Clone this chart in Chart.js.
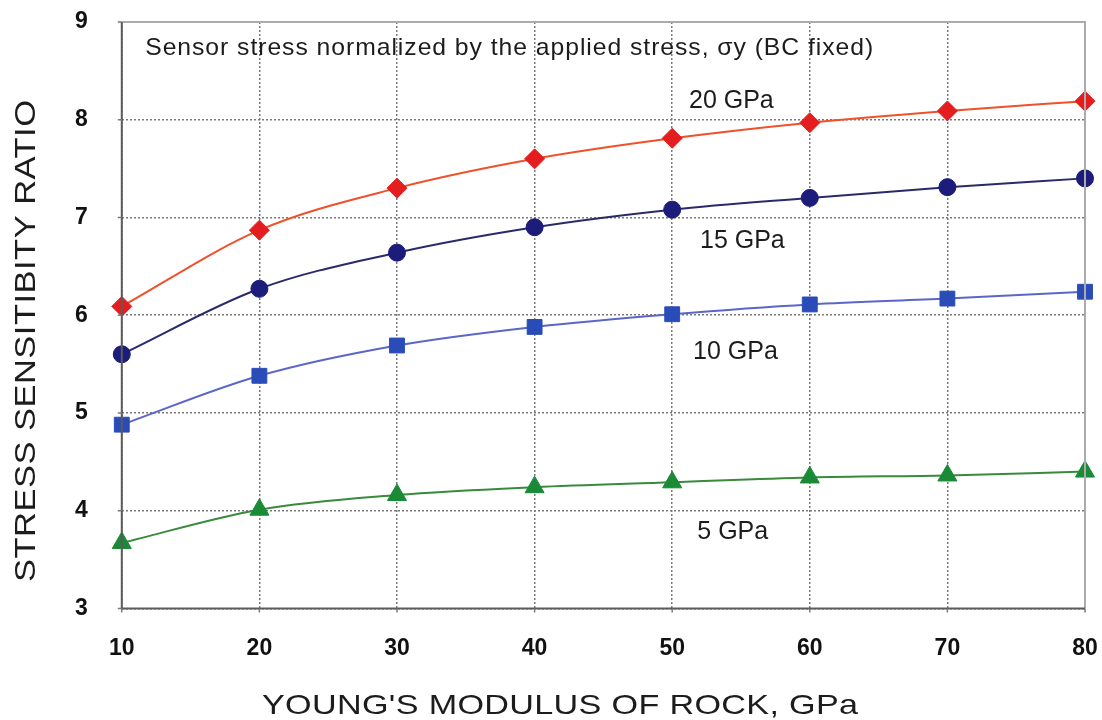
<!DOCTYPE html>
<html>
<head>
<meta charset="utf-8">
<script src="https://cdn.jsdelivr.net/npm/chart.js@4"></script>
<style>
  body { margin: 0; background: #fff; }
  #wrap { width: 1102px; height: 720px; }
</style>
</head>
<body>
<div id="wrap"><canvas id="chart-modulus"></canvas></div>
<script>
// young's modulus of rock (GPa)
const modulus = [10, 20, 30, 40, 50, 60, 70, 80];

// sensor stress normalized, one array per sensor modulus
const gpa20 = [6.09, 6.87, 7.30, 7.60, 7.81, 7.97, 8.09, 8.19];
const gpa15 = [5.60, 6.27, 6.64, 6.90, 7.08, 7.20, 7.31, 7.40];
const gpa10 = [4.88, 5.38, 5.69, 5.88, 6.01, 6.11, 6.17, 6.24];
const gpa5  = [3.67, 4.01, 4.16, 4.24, 4.29, 4.34, 4.36, 4.40];

const seriesNames = ['20 GPa', '15 GPa', '10 GPa', '5 GPa'];
const yTicks = [3, 4, 5, 6, 7, 8, 9];
const xTicks = [10, 20, 30, 40, 50, 60, 70, 80];
const noteText = 'Sensor stress normalized by the applied stress, \u03c3y (BC fixed)';
const xTitle = "YOUNG'S MODULUS OF ROCK, GPa";
const yTitle = 'STRESS SENSITIBITY RATIO';

const FAMILY = '"Liberation Sans", Arial, sans-serif';

function pts(values){
    const out = [];
    for(let i = 0; i < modulus.length; ++i){
        out.push({x: modulus[i], y: values[i]});
    }
    return out;
}

// draws text widened to a given width (the original font is wider)
function spreadText(ctx, text, x, y, width, stretch){
    const natural = ctx.measureText(text).width;
    ctx.save();
    ctx.translate(x, y);
    ctx.scale(stretch, 1);
    if('letterSpacing' in ctx){
        ctx.letterSpacing = ((width / stretch - natural) / (text.length - 1)) + 'px';
    } else {
        ctx.scale(width / (natural * stretch), 1);
    }
    ctx.fillText(text, 0, 0);
    ctx.restore();
}

// frame, small ticks, titles and labels
const textPlugin = {
    id: 'textos',
    afterDatasetsDraw(chart){
        const ctx = chart.ctx;
        const xs = chart.scales.x, ys = chart.scales.y;
        const a = chart.chartArea;
        ctx.save();
        ctx.lineWidth = 2;
        ctx.strokeStyle = '#ababab';
        ctx.beginPath();
        ctx.moveTo(a.left, a.top);
        ctx.lineTo(a.right, a.top);
        ctx.lineTo(a.right, a.bottom);
        ctx.stroke();
        ctx.strokeStyle = '#5a5a5a';
        ctx.beginPath();
        ctx.moveTo(a.left, a.top);
        ctx.lineTo(a.left, a.bottom);
        ctx.lineTo(a.right, a.bottom);
        ctx.stroke();

        ctx.lineWidth = 1.5;
        ctx.strokeStyle = '#7a7a7a';
        ctx.beginPath();
        xs.ticks.forEach(t => {
            const px = xs.getPixelForValue(t.value);
            ctx.moveTo(px, a.bottom);
            ctx.lineTo(px, a.bottom + 4);
        });
        ys.ticks.forEach(t => {
            const py = ys.getPixelForValue(t.value);
            ctx.moveTo(a.left - 4, py);
            ctx.lineTo(a.left, py);
        });
        ctx.stroke();

        ctx.fillStyle = '#1c1c1c';
        ctx.textBaseline = 'middle';

        ctx.font = '24px ' + FAMILY;
        ctx.textAlign = 'left';
        spreadText(ctx, noteText, xs.getPixelForValue(11.7), ys.getPixelForValue(8.73), 728, 1.03);

        ctx.font = '25px ' + FAMILY;
        ctx.textAlign = 'center';
        const where = [[54.3, 8.19], [55.1, 6.76], [54.6, 5.62], [54.4, 3.78]];
        for(let i = 0; i < seriesNames.length; ++i){
            ctx.fillText(seriesNames[i], xs.getPixelForValue(where[i][0]), ys.getPixelForValue(where[i][1]));
        }

        // axis titles
        ctx.font = '28px ' + FAMILY;
        ctx.textAlign = 'left';
        spreadText(ctx, xTitle, 262, 706, 596, 1.22);

        ctx.font = '30px ' + FAMILY;
        ctx.translate(27, 582);
        ctx.rotate(-Math.PI / 2);
        spreadText(ctx, yTitle, 0, 0, 482, 1.15);
        ctx.restore();
    }
};

var chartModulus = new Chart(document.getElementById('chart-modulus').getContext('2d'), {
    type: 'line',
    data: {
        datasets: [{
            label: seriesNames[0],
            data: pts(gpa20),
            borderColor: '#f0502a',
            pointBackgroundColor: '#e41e1e',
            pointBorderColor: '#e41e1e',
            pointStyle: 'rectRot',
            pointRadius: 10
        }, {
            label: seriesNames[1],
            data: pts(gpa15),
            borderColor: '#2a2a6a',
            pointBackgroundColor: '#1c1c7a',
            pointBorderColor: '#1c1c7a',
            pointStyle: 'circle',
            pointRadius: 8.5
        }, {
            label: seriesNames[2],
            data: pts(gpa10),
            borderColor: '#5a66c8',
            pointBackgroundColor: '#2a4cb8',
            pointBorderColor: '#2a4cb8',
            pointStyle: 'rect',
            pointRadius: 10.5
        }, {
            label: seriesNames[3],
            data: pts(gpa5),
            borderColor: '#3a8a3e',
            pointBackgroundColor: '#1a8a36',
            pointBorderColor: '#1a8a36',
            pointStyle: 'triangle',
            pointRadius: 11
        }]
    },
    options: {
        responsive: true,
        maintainAspectRatio: false,
        animation: false,
        events: [],
        layout: {autoPadding: false, padding: {left: 75, right: 17, top: 22, bottom: 58}},
        elements: {
            line: {borderWidth: 2, cubicInterpolationMode: 'monotone'},
            point: {borderWidth: 1}
        },
        datasets: {line: {clip: false}},
        scales: {
            x: {
                type: 'linear',
                min: 10,
                max: 80,
                afterBuildTicks: function(axis){ axis.ticks = xTicks.map(v => ({value: v})); },
                grid: {color: '#7a7a7a', lineWidth: 1.5, tickLength: 26, tickColor: 'rgba(0,0,0,0)'},
                border: {display: false, dash: [2, 2]},
                ticks: {
                    color: '#111',
                    padding: 0,
                    font: {size: 23, weight: 'bold', family: FAMILY}
                }
            },
            y: {
                type: 'linear',
                min: 3,
                max: 9,
                afterBuildTicks: function(axis){ axis.ticks = yTicks.map(v => ({value: v})); },
                grid: {color: '#7a7a7a', lineWidth: 1.5, tickLength: 34, tickColor: 'rgba(0,0,0,0)'},
                border: {display: false, dash: [2, 2]},
                ticks: {
                    color: '#111',
                    padding: 0,
                    font: {size: 23, weight: 'bold', family: FAMILY}
                }
            }
        },
        plugins: {
            legend: {display: false},
            tooltip: {enabled: false}
        }
    },
    plugins: [textPlugin]
});
</script>
</body>
</html>
